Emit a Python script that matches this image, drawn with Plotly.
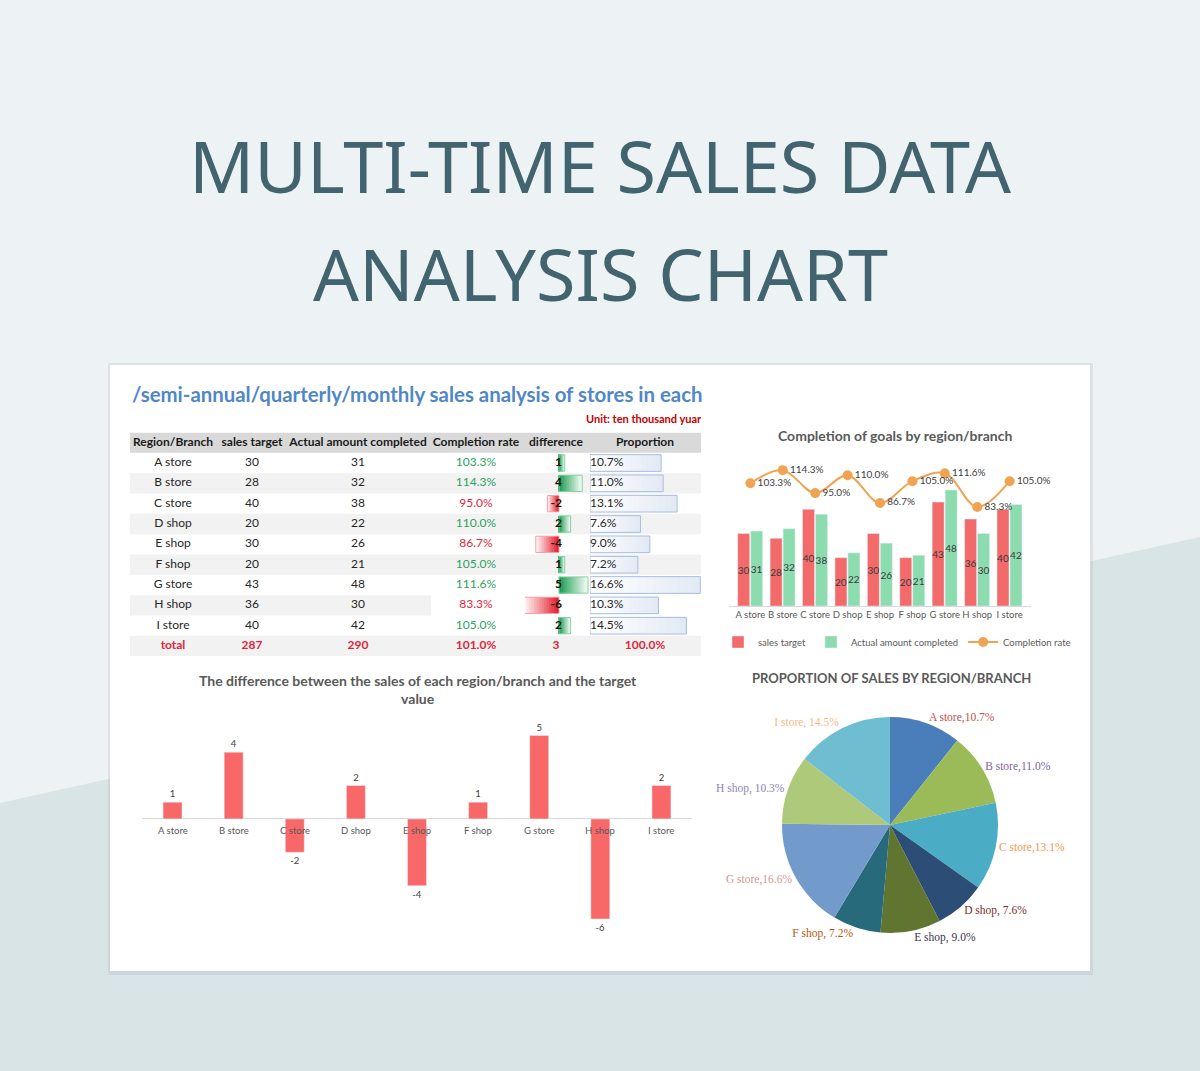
import plotly.graph_objects as go

W, H = 1200, 1071

# ---------------- data ----------------
stores = ["A store", "B store", "C store", "D shop", "E shop", "F shop", "G store", "H shop", "I store"]
sales_target = [30, 28, 40, 20, 30, 20, 43, 36, 40]
actual_completed = [31, 32, 38, 22, 26, 21, 48, 30, 42]
completion_rate = [103.3, 114.3, 95.0, 110.0, 86.7, 105.0, 111.6, 83.3, 105.0]
difference = [1, 4, -2, 2, -4, 1, 5, -6, 2]
proportion = [10.7, 11.0, 13.1, 7.6, 9.0, 7.2, 16.6, 10.3, 14.5]
table_headers = ["Region/Branch", "sales target", "Actual amount completed", "Completion rate", "difference", "Proportion"]
total_row = ["total", "287", "290", "101.0%", "3", "100.0%"]
pie_text = ["A store,10.7%", "B store,11.0%", "C store,13.1%", "D shop, 7.6%", "E shop, 9.0%",
            "F shop, 7.2%", "G store,16.6%", "H shop, 10.3%", "I store, 14.5%"]

# ---------------- helpers ----------------
def px(x):
    return x / W

def py(y):
    return 1 - y / H

def hex2rgb(h):
    h = h.lstrip("#")
    return tuple(int(h[i:i + 2], 16) for i in (0, 2, 4))

def mix(c1, c2, t):
    a, b = hex2rgb(c1), hex2rgb(c2)
    return "rgb(%d,%d,%d)" % tuple(round(a[i] + (b[i] - a[i]) * t) for i in range(3))

FONT = "Lato"
RED = "#f26a6a"
GREEN = "#8ddcb0"
ORANGE = "#f0a453"
GREY_T = "#595959"

fig = go.Figure()
rows = list(range(len(stores)))

# ---------------- combo chart (target / actual / rate) ----------------
fig.add_trace(go.Bar(x=stores, y=sales_target, name="sales target", xaxis="x", yaxis="y",
                     marker=dict(color=RED), width=0.37, offset=-0.39,
                     text=sales_target, textposition="inside", insidetextanchor="middle",
                     constraintext="none", textangle=0,
                     textfont=dict(size=10, color="#3a3a3a", family=FONT), hoverinfo="skip"))
fig.add_trace(go.Bar(x=stores, y=actual_completed, name="Actual amount completed", xaxis="x", yaxis="y",
                     marker=dict(color=GREEN), width=0.37, offset=0.01,
                     text=actual_completed, textposition="inside", insidetextanchor="middle",
                     constraintext="none", textangle=0,
                     textfont=dict(size=10, color="#3a3a3a", family=FONT), hoverinfo="skip"))
fig.add_trace(go.Scatter(x=stores, y=completion_rate, name="Completion rate", xaxis="x", yaxis="y2",
                         mode="lines+markers+text", line=dict(color=ORANGE, width=2, shape="spline"),
                         marker=dict(color=ORANGE, size=10),
                         text=["%.1f%%" % v for v in completion_rate], textposition="middle right",
                         textfont=dict(size=10, color="#404040", family=FONT),
                         cliponaxis=False, hoverinfo="skip"))

# ---------------- difference chart ----------------
fig.add_trace(go.Bar(x=stores, y=difference, xaxis="x3", yaxis="y3", width=0.31,
                     marker=dict(color="#f86868"), text=difference, textposition="outside",
                     textfont=dict(size=9.5, color="#404040", family=FONT), cliponaxis=False,
                     constraintext="none", showlegend=False, hoverinfo="skip"))

# ---------------- table data bars (gradient: long light bars under short dark bars) ----------------
N = 14
for j in range(N):
    t = (N - 1 - j) / (N - 1)
    cols = [mix("#1f9e52", "#f4fbf6", t) if d > 0 else mix("#e4202c", "#fff2f3", t) for d in difference]
    fig.add_trace(go.Bar(y=rows, x=[d * (N - j) / N for d in difference],
                         orientation="h", xaxis="x4", yaxis="y4", width=0.8,
                         marker=dict(color=cols, line=dict(width=0)), showlegend=False, hoverinfo="skip"))
fig.add_trace(go.Bar(y=rows, x=difference, orientation="h", xaxis="x4", yaxis="y4", width=0.8,
                     marker=dict(color="rgba(0,0,0,0)",
                                 line=dict(width=1, color=["#86d3a2" if d > 0 else "#f4a2a7" for d in difference])),
                     showlegend=False, hoverinfo="skip"))
for j in range(N):
    t = (N - 1 - j) / (N - 1)
    fig.add_trace(go.Bar(y=rows, x=[p * (N - j) / N for p in proportion],
                         orientation="h", xaxis="x5", yaxis="y4", width=0.82,
                         marker=dict(color=mix("#ffffff", "#e3eaf4", t), line=dict(width=0)),
                         showlegend=False, hoverinfo="skip"))
fig.add_trace(go.Bar(y=rows, x=proportion, orientation="h", xaxis="x5", yaxis="y4", width=0.82,
                     marker=dict(color="rgba(0,0,0,0)", line=dict(width=1, color="#a7bddf")),
                     showlegend=False, hoverinfo="skip"))

# ---------------- table text ----------------
col_x = [173, 252, 358, 476, 556, 645]
TXT = "#262626"
GREEN_T = "#2aa45a"
RED_T = "#e0263b"

fig.add_trace(go.Scatter(x=col_x, y=[-1] * 6, mode="text", text=table_headers, xaxis="x6", yaxis="y4",
                         textfont=dict(size=12, color="#1a1a1a", family=FONT, weight="bold"),
                         showlegend=False, hoverinfo="skip", cliponaxis=False))
for xc, vals in zip(col_x[:3], [stores, sales_target, actual_completed]):
    fig.add_trace(go.Scatter(x=[xc] * len(rows), y=rows, mode="text", text=[str(v) for v in vals],
                             xaxis="x6", yaxis="y4", textfont=dict(size=12, color=TXT, family=FONT),
                             showlegend=False, hoverinfo="skip", cliponaxis=False))
fig.add_trace(go.Scatter(x=[col_x[3]] * len(rows), y=rows, mode="text",
                         text=["%.1f%%" % v for v in completion_rate], xaxis="x6", yaxis="y4",
                         textfont=dict(size=12, family=FONT,
                                       color=[GREEN_T if v >= 100 else RED_T for v in completion_rate]),
                         showlegend=False, hoverinfo="skip", cliponaxis=False))
fig.add_trace(go.Scatter(x=[562] * len(rows), y=rows, mode="text", text=[str(d) for d in difference],
                         textposition="middle left", xaxis="x6", yaxis="y4",
                         textfont=dict(size=12, color="#111111", family=FONT, weight="bold"),
                         showlegend=False, hoverinfo="skip", cliponaxis=False))
fig.add_trace(go.Scatter(x=[590] * len(rows), y=rows, mode="text", text=["%.1f%%" % p for p in proportion],
                         textposition="middle right", xaxis="x6", yaxis="y4",
                         textfont=dict(size=12, color=TXT, family=FONT),
                         showlegend=False, hoverinfo="skip", cliponaxis=False))
fig.add_trace(go.Scatter(x=col_x, y=[len(stores)] * 6, mode="text", text=total_row, xaxis="x6", yaxis="y4",
                         textfont=dict(size=12, color=RED_T, family=FONT, weight="bold"),
                         showlegend=False, hoverinfo="skip", cliponaxis=False))

# ---------------- pie ----------------
pie_colors = ["#4a7ebb", "#9bbb59", "#4bacc6", "#2c4d75", "#5f7530", "#276a7c", "#729aca", "#afc97a", "#6fbdd1"]
pie_text_colors = ["#c0504d", "#8064a2", "#f79646", "#772c2a", "#403152", "#b65708", "#d99694", "#8f84b8", "#f5b887"]
fig.add_trace(go.Pie(labels=stores, values=proportion, sort=False, direction="clockwise", rotation=0,
                     marker=dict(colors=pie_colors, line=dict(width=0)),
                     text=pie_text, textinfo="text", textposition="outside",
                     textfont=dict(family="Liberation Serif", size=11.5, color=pie_text_colors),
                     domain=dict(x=[px(782), px(998)], y=[py(933), py(717)]),
                     showlegend=False, hoverinfo="skip"))

# ---------------- shapes ----------------
shapes = []
shapes.append(dict(type="path", xref="paper", yref="paper", layer="below",
                   path="M 0,%f L 1,%f L 1,0 L 0,0 Z" % (py(803), py(537)),
                   fillcolor="#d9e4e6", line=dict(width=0)))
shapes.append(dict(type="rect", xref="paper", yref="paper", layer="below",
                   x0=px(108), x1=px(1093), y0=py(975), y1=py(363),
                   fillcolor="rgba(120,140,150,0.14)", line=dict(width=0)))
shapes.append(dict(type="rect", xref="paper", yref="paper", layer="below",
                   x0=px(110), x1=px(1090), y0=py(971), y1=py(365),
                   fillcolor="#ffffff", line=dict(width=0)))
# table header and banding (x in paper so they sit under every subplot)
shapes.append(dict(type="rect", xref="paper", yref="y4", layer="below",
                   x0=px(130), x1=px(701), y0=-1.5, y1=-0.5, fillcolor="#d9d9d9", line=dict(width=0)))
for r in [1, 3, 5, 7, 9]:
    shapes.append(dict(type="rect", xref="paper", yref="y4", layer="below",
                       x0=px(130), x1=px(431) if r == 7 else px(701), y0=r - 0.5, y1=r + 0.5,
                       fillcolor="#f2f2f2", line=dict(width=0)))

# ---------------- annotations ----------------
ann = []
def note(text, x, y, size, color, family=FONT, weight="normal", xanchor="center"):
    ann.append(dict(text=text, x=x, y=y, xref="paper", yref="paper", xanchor=xanchor, yanchor="middle",
                    showarrow=False, font=dict(family=family, size=size, color=color, weight=weight)))

note("MULTI-TIME SALES DATA", 0.5, py(165), 72, "#41646f", family="Noto Sans")
note("ANALYSIS CHART", 0.5, py(273), 72, "#41646f", family="Noto Sans")
note("/semi-annual/quarterly/monthly sales analysis of stores in each", px(130), py(394), 20.4,
     "#4f87c7", weight="bold", xanchor="left")
note("Unit: ten thousand yuar", px(704), py(419), 11, "#c00000", weight="bold", xanchor="right")
note("Completion of goals by region/branch", px(895), py(435), 14, GREY_T, weight="bold")
note("The difference between the sales of each region/branch and the target<br>value", px(418), py(689),
     14, GREY_T, weight="bold")
note("PROPORTION OF SALES BY REGION/BRANCH", px(891), py(678), 13, GREY_T, weight="bold")
for s in stores:
    ann.append(dict(text=s, x=s, y=0, xref="x3", yref="y3", yanchor="top", yshift=-4, showarrow=False,
                    font=dict(family=FONT, size=9.5, color=GREY_T)))

hidden = dict(visible=False, showgrid=False, zeroline=False, fixedrange=True)

fig.update_layout(
    width=W, height=H, autosize=False,
    margin=dict(l=0, r=0, t=0, b=0, autoexpand=False),
    paper_bgcolor="#edf2f5", plot_bgcolor="rgba(0,0,0,0)",
    barmode="overlay",
    font=dict(family=FONT, color=GREY_T),
    showlegend=True,
    legend=dict(orientation="h", x=px(718), y=py(642), xanchor="left", yanchor="middle",
                font=dict(size=9.5, color=GREY_T, family=FONT), bgcolor="rgba(0,0,0,0)",
                itemwidth=30, tracegroupgap=0),
    xaxis=dict(domain=[px(729), px(1031)], anchor="y", showgrid=False, zeroline=False,
               showline=True, linecolor="#d9d9d9", ticks="", tickangle=0, automargin=False,
               tickfont=dict(size=9.5, color=GREY_T, family=FONT)),
    yaxis=dict(domain=[py(606), py(461)], range=[0, 60], **hidden),
    yaxis2=dict(overlaying="y", range=[0, 122], **hidden),
    xaxis3=dict(domain=[px(142), px(692)], anchor="y3", showgrid=False, zeroline=False,
                showticklabels=False, ticks=""),
    yaxis3=dict(domain=[py(944), py(710.5)], anchor="x3", range=[-7.5, 6.5], showgrid=False,
                zeroline=True, zerolinecolor="#d9d9d9", zerolinewidth=1, showticklabels=False, ticks=""),
    xaxis4=dict(domain=[px(525), px(592)], anchor="y4", range=[-5.86, 5.69], **hidden),
    yaxis4=dict(domain=[py(656.2), py(432.5)], anchor="x4", range=[9.5, -1.5], **hidden),
    xaxis5=dict(domain=[px(590), px(703)], anchor="y4", range=[0, 17.0], **hidden),
    xaxis6=dict(domain=[px(130), px(703)], anchor="y4", range=[130, 703], **hidden),
    shapes=shapes,
    annotations=ann,
)

fig.write_html("out.html", config={"displayModeBar": False})
